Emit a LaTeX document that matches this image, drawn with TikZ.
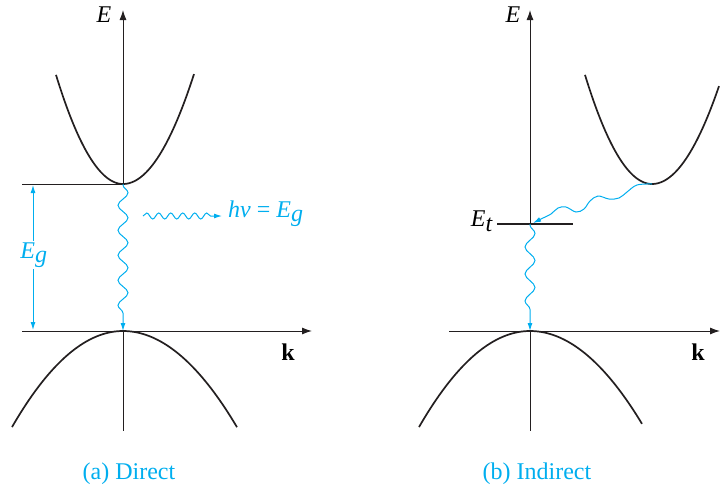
\documentclass[tikz,border=0pt]{standalone}
\usepackage{fontspec}
\setmainfont{Liberation Serif}
\usetikzlibrary{decorations.pathmorphing,arrows.meta}
\definecolor{cy}{RGB}{0,174,239}
\definecolor{ink}{RGB}{35,31,32}
\begin{document}
\begin{tikzpicture}[x=1pt,y=-1pt,
  band/.style={ink,line width=1.7pt},
  axisline/.style={ink,line width=1pt},
  axisarrow/.style={ink,line width=1pt,-{Latex[length=10pt,width=7pt]}},
  lbl/.style={font=\fontsize{24}{28}\selectfont,inner sep=1pt},
  captext/.style={font=\fontsize{24}{28}\selectfont,text=cy},
  cyarrow/.style={cy,line width=1pt,-{Latex[length=8pt,width=5pt]}},
  wave/.style={cyarrow,decorate,
    decoration={snake,amplitude=5pt,segment length=25pt,pre length=1pt,post length=10pt}},
  photon/.style={cyarrow,decorate,
    decoration={snake,amplitude=3pt,segment length=12pt,post length=7pt}}]
\useasboundingbox (0,0) rectangle (720,488);
% ---------- (a) Direct ----------
\coordinate (aEtop) at (123,10);
\coordinate (aEbot) at (123,431);
\coordinate (aCB) at (123,184);
\coordinate (aVB) at (123,331);
\coordinate (aCBl) at (22,184);
\coordinate (akl) at (22,331);
\coordinate (akr) at (312,331);
\draw[axisarrow] (aCB) -- (aEtop);
\draw[axisline] (aVB) -- (aEbot);
\node[lbl,font=\fontsize{24}{28}\selectfont\itshape] (aE) at (104,15) {E};
\draw[axisline] (aCBl) -- (aCB);
\draw[axisarrow] (akl) -- (akr);
\node[lbl,font=\fontsize{24}{28}\selectfont\bfseries] (ak) at (288,352) {k};
\draw[band] plot[domain=-67:0,samples=40] ({123+\x},{184-0.0243*\x*\x})
            -- plot[domain=0:71,samples=40] ({123+\x},{184-0.0218*\x*\x});
\draw[band] plot[domain=-111:0,samples=40] ({123+\x},{331+0.0078*\x*\x})
            -- plot[domain=0:114,samples=40] ({123+\x},{331+0.0074*\x*\x});
\coordinate (aEgt) at (33,185);
\coordinate (aEgb) at (33,330);
\draw[cy,line width=1pt,{Latex[length=8pt,width=5pt]}-{Latex[length=8pt,width=5pt]}] (aEgt) -- (aEgb);
\node[lbl,fill=white,text=cy,inner sep=2pt] (aEg) at (34,255) {\textit{E}$_{\textit{g}}$};
\draw[wave] (aCB) -- (aVB);
\coordinate (aph1) at (143,216);
\coordinate (aph2) at (222,216);
\draw[photon] (aph1) -- (aph2);
\node[lbl,text=cy,anchor=west] (ahv) at (227,214) {\textit{hν} = \textit{E}$_{\textit{g}}$};
\node[captext] (acap) at (129,474) {(a) Direct};
% ---------- (b) Indirect ----------
\coordinate (bEtop) at (530,10);
\coordinate (bEbot) at (530,431);
\coordinate (bCB) at (652,184);
\coordinate (bVB) at (530,331);
\coordinate (bEt) at (530,224);
\coordinate (bEtl) at (497,224);
\coordinate (bEtr) at (573,224);
\coordinate (bkl) at (449,331);
\coordinate (bkr) at (720,331);
\coordinate (bTip) at (533,223);
\draw[axisarrow] (bEt) -- (bEtop);
\draw[axisline] (bVB) -- (bEbot);
\node[lbl,font=\fontsize{24}{28}\selectfont\itshape] (bE) at (513,15) {E};
\draw[axisarrow] (bkl) -- (bkr);
\node[lbl,font=\fontsize{24}{28}\selectfont\bfseries] (bk) at (698,352) {k};
\draw[band] plot[domain=-67:0,samples=40] ({652+\x},{184-0.0243*\x*\x})
            -- plot[domain=0:67,samples=40] ({652+\x},{184-0.0218*\x*\x});
\draw[band] plot[domain=-111:0,samples=40] ({530+\x},{331+0.0078*\x*\x})
            -- plot[domain=0:112,samples=40] ({530+\x},{331+0.0074*\x*\x});
\draw[ink,line width=1.7pt] (bEtl) -- (bEtr);
\node[lbl,anchor=east] (bEtlab) at (494,221) {\textit{E}$_{\textit{t}}$};
\draw[cyarrow] plot[smooth,tension=0.6] coordinates {(bCB) (637,185) (627,192) (619,198) (609,199) (598,196) (590,201) (584,209) (576,212) (566,207) (558,208) (551,214) (543,218)} -- (bTip);
\draw[wave,decoration={amplitude=5pt,segment length=27pt}] (bEt) -- (bVB);
\node[captext] (bcap) at (537,474) {(b) Indirect};
\end{tikzpicture}
\end{document}
